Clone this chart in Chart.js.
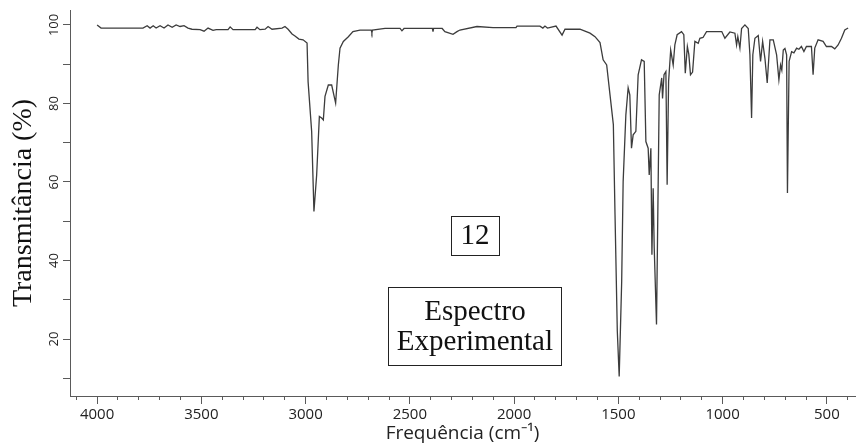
<!DOCTYPE html>
<html>
<head>
<meta charset="utf-8">
<script src="https://cdn.jsdelivr.net/npm/chart.js@4"></script>
<style>
  html, body { margin: 0; padding: 0; background: #fff; }
  canvas { display: block; }
</style>
</head>
<body>
<canvas id="irChart" width="864" height="446"></canvas>
<script>
// wavenumber (cm-1) and transmittance (%)
const WAVENUMBER = [
  4000, 3981, 3780, 3760, 3746, 3731, 3717, 3698, 3679, 3660, 3640, 3621, 3602, 3583, 3564, 3545,
  3506, 3487, 3468, 3444, 3429, 3372, 3362, 3348, 3242, 3233, 3219, 3194, 3180, 3161, 3113, 3099,
  3084, 3065, 3051, 3032, 3012, 2993, 2988, 2971, 2960, 2947, 2934, 2923, 2915, 2907, 2891, 2875,
  2856, 2843, 2835, 2819, 2795, 2773, 2739, 2685, 2682, 2679, 2619, 2547, 2538, 2528, 2392, 2389,
  2386, 2345, 2332, 2293, 2274, 2260, 2178, 2101, 1991, 1986, 1876, 1862, 1852, 1840, 1799, 1770,
  1756, 1684, 1636, 1612, 1588, 1573, 1556, 1540, 1524, 1516, 1505, 1496, 1484, 1477, 1464, 1453,
  1445, 1437, 1429, 1416, 1405, 1389, 1376, 1368, 1357, 1352, 1344, 1339, 1333, 1328, 1317, 1304,
  1292, 1288, 1281, 1272, 1266, 1259, 1249, 1237, 1229, 1218, 1197, 1186, 1179, 1169, 1162, 1154,
  1144, 1133, 1117, 1109, 1094, 1077, 1004, 989, 965, 941, 933, 927, 917, 909, 893, 877,
  869, 861, 855, 845, 829, 818, 808, 797, 786, 773, 757, 741, 730, 722, 716, 709,
  701, 693, 689, 681, 669, 658, 645, 634, 622, 610, 598, 574, 566, 558, 542, 518,
  502, 478, 462, 446, 430, 414, 398
];
const TRANSMITTANCE = [
  100, 99.2, 99.2, 99.8, 99.2, 99.8, 99.2, 99.8, 99.2, 100, 99.4, 100, 99.6, 99.8, 99.2, 98.9,
  98.8, 98.4, 99.2, 98.6, 98.8, 98.8, 99.5, 98.8, 98.8, 99.4, 98.8, 98.9, 99.6, 98.9, 99.2, 99.6,
  98.9, 97.7, 97.2, 96.4, 96.2, 95.4, 85.5, 72.9, 52.5, 61.8, 76.7, 76.3, 75.8, 81.8, 84.7, 84.7,
  80.1, 89.8, 94.1, 95.8, 97, 98.3, 98.7, 98.7, 98, 98.7, 99.1, 99.1, 98.5, 99.1, 99.1, 98.3,
  99.1, 99.1, 98.3, 97.6, 98.3, 98.7, 99.6, 99.3, 99.3, 99.7, 99.7, 99.2, 99.7, 99.2, 99.7, 97.4,
  98.9, 98.9, 97.9, 97, 95.5, 91.1, 89.8, 82.2, 74.6, 51.7, 22, 10.5, 34.7, 60.1, 77.1, 84,
  82.2, 68.6, 72, 72.9, 87.3, 91.1, 90.7, 70.3, 68.6, 61.8, 68.6, 41.5, 58.4, 43.3, 23.7, 82.2,
  86.5, 81.3, 87.3, 88.1, 59.3, 85.6, 93.6, 89.8, 94.9, 97.5, 98.3, 97.5, 87.7, 94.5, 92.5, 87.3,
  88, 95.8, 95.3, 96.6, 96.8, 98.3, 98.3, 96.6, 98.2, 97.9, 94.9, 97, 94.1, 99.1, 100, 99.1,
  92.4, 76.3, 92.4, 96.6, 97.3, 90.7, 95.8, 91.5, 85.2, 96.2, 96.2, 92.4, 86, 89.8, 88.5, 93.6,
  94, 92.4, 57.2, 90.7, 93.2, 92.9, 94.1, 93.8, 94.5, 93.2, 94.5, 94.5, 87.3, 94.1, 96.2, 95.8,
  94.5, 94.5, 93.9, 94.9, 96.6, 98.7, 99.2
];

const X_MIN = 365, X_MAX = 4130;
const Y_MIN = 5.5, Y_MAX = 103.8;
const X_LABEL_STEP = 500, Y_LABEL_STEP = 20;

// text boxes, anchored at data coordinates
const BOXES = [
  { lines: ['12'], x: 2188, y: 46.3, w: 48, h: 39 },
  { lines: ['Espectro', 'Experimental'], x: 2188, y: 23.3, w: 173, h: 78 }
];

const LINE = '#3c3c3c', AXIS = '#5a5a5a', TEXT = '#222', SERIF = '"Liberation Serif", "Times New Roman", serif';

const boxPlugin = {
  id: 'boxes',
  afterDraw(chart) {
    const { ctx, scales } = chart;
    ctx.save();
    ctx.font = '29px ' + SERIF;
    ctx.fillStyle = '#111';
    ctx.strokeStyle = '#222';
    ctx.lineWidth = 1;
    ctx.textAlign = 'center';
    ctx.textBaseline = 'middle';
    BOXES.forEach(b => {
      const cx = scales.x.getPixelForValue(b.x);
      const cy = scales.y.getPixelForValue(b.y);
      ctx.strokeRect(Math.round(cx - b.w / 2) + 0.5, Math.round(cy - b.h / 2) + 0.5, b.w, b.h);
      const lh = 30;
      b.lines.forEach((t, i) => {
        ctx.fillText(t, cx, cy + (i - (b.lines.length - 1) / 2) * lh + 1);
      });
    });
    ctx.restore();
  }
};

new Chart(document.getElementById('irChart'), {
  type: 'line',
  data: {
    datasets: [{
      data: WAVENUMBER.map((w, i) => ({ x: w, y: TRANSMITTANCE[i] })),
      borderColor: LINE,
      borderWidth: 1.3,
      pointRadius: 0,
      tension: 0,
      fill: false
    }]
  },
  options: {
    responsive: false,
    animation: false,
    layout: { padding: { top: 10, right: 9, left: 0, bottom: 0 } },
    plugins: { legend: { display: false }, tooltip: { enabled: false } },
    scales: {
      x: {
        type: 'linear',
        reverse: true,
        min: X_MIN,
        max: X_MAX,
        afterFit: s => { s.height = 50; },
        border: { display: true, color: AXIS, width: 1 },
        grid: {
          drawOnChartArea: false,
          tickLength: 8,
          tickColor: AXIS,
          tickBorderDash: c => (c.tick && c.tick.value % X_LABEL_STEP === 0) ? [] : [3, 40]
        },
        ticks: {
          stepSize: 100,
          includeBounds: false,
          autoSkip: false,
          maxRotation: 0,
          padding: 2,
          color: TEXT,
          font: { family: '"Open Sans"', size: 15 },
          callback: v => v % X_LABEL_STEP === 0 ? String(v) : ''
        },
        title: {
          display: true,
          text: 'Frequência (cm⁻¹)',
          color: TEXT,
          font: { family: '"Open Sans"', size: 19 },
          padding: { top: 0, bottom: 1 }
        }
      },
      y: {
        min: Y_MIN,
        max: Y_MAX,
        afterFit: s => { s.width = 70; },
        border: { display: true, color: AXIS, width: 1 },
        grid: {
          drawOnChartArea: false,
          tickLength: 7,
          tickColor: AXIS,
          tickBorderDash: c => (c.tick && c.tick.value % 10 === 0) ? [] : [3, 40]
        },
        ticks: {
          stepSize: 5,
          includeBounds: false,
          minRotation: 90,
          maxRotation: 90,
          crossAlign: 'center',
          padding: -2,
          color: TEXT,
          font: { family: '"Open Sans"', size: 13 },
          callback: v => v % Y_LABEL_STEP === 0 ? String(v) : ''
        },
        title: {
          display: true,
          text: 'Transmitância (%)',
          color: '#111',
          font: { family: SERIF, size: 28 },
          padding: { top: 7, bottom: 0 }
        }
      }
    }
  },
  plugins: [boxPlugin]
});
</script>
</body>
</html>
